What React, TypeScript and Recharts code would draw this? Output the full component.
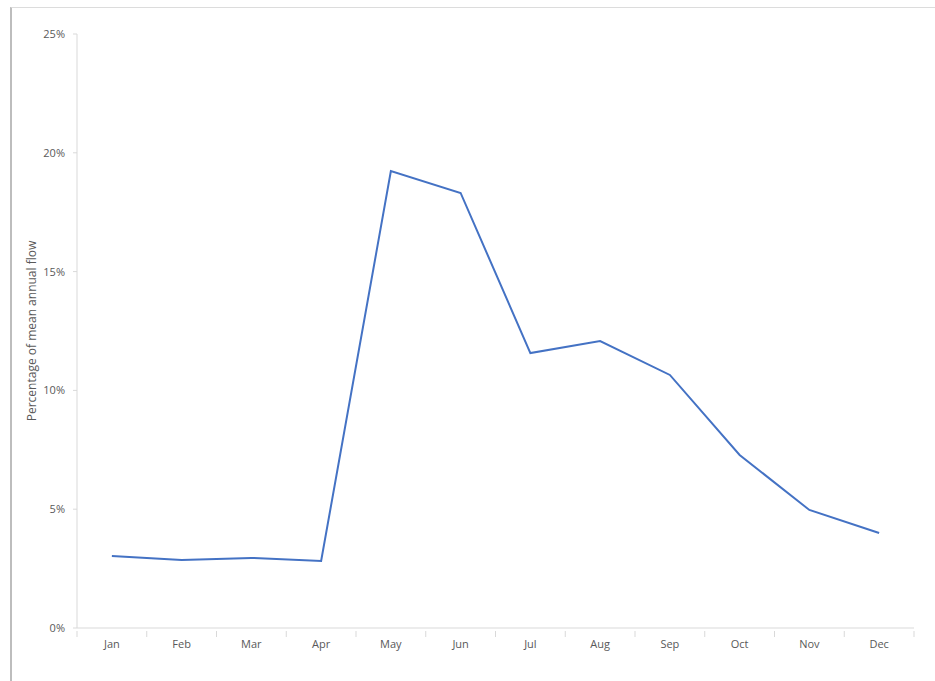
import { CartesianGrid, Line, LineChart, XAxis, YAxis } from "recharts";

const months = ["Jan", "Feb", "Mar", "Apr", "May", "Jun", "Jul", "Aug", "Sep", "Oct", "Nov", "Dec"];
const flowShare = [3.03, 2.86, 2.95, 2.82, 19.23, 18.31, 11.57, 12.08, 10.65, 7.28, 4.97, 4.0];
const yTicks = [0, 5, 10, 15, 20, 25];

const data = months.map((month, i) => ({ month, value: flowShare[i] }));

const W = 935;
const H = 681;
const margin = { top: 34, right: 21, bottom: 23, left: 20 };
const bandW = (W - margin.left - 57 - margin.right) / months.length;
const xTickGap = 6;

const axisColor = "#d9d9d9";
const textColor = "#595959";
const font = "'Open Sans', 'Liberation Sans', sans-serif";

// Excel-style category tick: label centred in band, tick mark on band edges
const MonthTick = (props: any) => {
  const { x, y, payload, index } = props;
  const left = x - bandW / 2;
  const axisY = y - xTickGap;
  return (
    <g>
      <line x1={left} x2={left} y1={axisY - 3} y2={axisY + 3} stroke={axisColor} />
      {index === months.length - 1 && (
        <line x1={x + bandW / 2} x2={x + bandW / 2} y1={axisY - 3} y2={axisY + 3} stroke={axisColor} />
      )}
      <text x={x} y={y} dy="0.71em" textAnchor="middle" fill={textColor} fontSize={11} fontFamily={font}>
        {payload.value}
      </text>
    </g>
  );
};

const YLabel = (props: any) => {
  const vb = props.viewBox;
  const cx = vb.x + 11;
  const cy = vb.y + vb.height / 2;
  return (
    <text
      x={cx}
      y={cy}
      transform={`rotate(-90 ${cx} ${cy})`}
      textAnchor="middle"
      dominantBaseline="central"
      fill={textColor}
      fontSize={12}
      fontFamily={font}
    >
      Percentage of mean annual flow
    </text>
  );
};

export default function App() {
  return (
    <div style={{ position: "absolute", left: 0, top: 0, width: W, height: H, background: "#fff" }}>
      {/* frame */}
      <div
        style={{
          position: "absolute",
          left: 10,
          top: 7,
          right: 0,
          bottom: 0,
          borderLeft: "2px solid #bdbdbd",
          borderTop: "1px solid #dcdcdc",
        }}
      />
      <LineChart width={W} height={H} data={data} margin={margin} style={{ position: "absolute", left: 0, top: 0 }}>
        <CartesianGrid horizontal={false} vertical={false} />
        <XAxis
          dataKey="month"
          scale="band"
          stroke={axisColor}
          tickLine={false}
          height={30}
          tickMargin={xTickGap}
          tick={<MonthTick />}
          interval={0}
        />
        <YAxis
          width={57}
          domain={[0, 25]}
          ticks={yTicks}
          tickFormatter={(v) => `${v}%`}
          stroke={axisColor}
          tickSize={4}
          tickMargin={8}
          tick={{ fill: textColor, fontSize: 11, fontFamily: font }}
          label={{ content: YLabel }}
        />
        <Line
          type="linear"
          dataKey="value"
          stroke="#4472c4"
          strokeWidth={2}
          dot={false}
          isAnimationActive={false}
        />
      </LineChart>
    </div>
  );
}
